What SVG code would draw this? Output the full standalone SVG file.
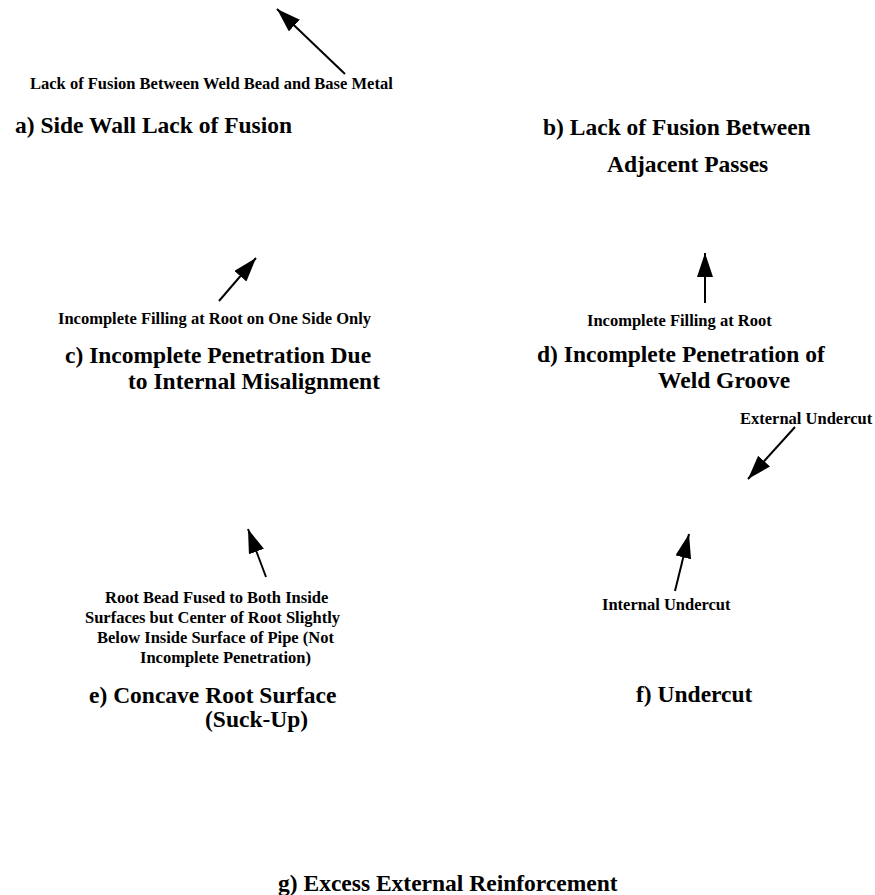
<svg xmlns="http://www.w3.org/2000/svg" width="875" height="895" viewBox="0 0 875 895">
<style>
.lbl{font-size:16.5px}
.ttl{font-size:23.5px}
.arr{stroke:#000;stroke-width:2;fill:none;marker-end:url(#ah)}
</style>
<defs>
<marker id="ah" markerUnits="userSpaceOnUse" markerWidth="26" markerHeight="18" refX="24" refY="8" orient="auto">
<path d="M0,0 L24,8 L0,16 Z" fill="#000"/>
</marker>
</defs>
<rect width="875" height="895" fill="#fff"/>
<g id="connectors">
<line class="arr" x1="345" y1="74" x2="277" y2="9"/>
<line class="arr" x1="219" y1="301" x2="256" y2="258"/>
<line class="arr" x1="705" y1="303" x2="705" y2="253"/>
<line class="arr" x1="795" y1="427" x2="748" y2="479"/>
<line class="arr" x1="675" y1="591" x2="689" y2="534"/>
<line class="arr" x1="266" y1="577" x2="248" y2="529"/>
</g>
<g font-family="'Liberation Serif', 'DejaVu Serif', serif" font-weight="bold" fill="#000">
<g id="a">
<text class="lbl" x="30" y="89">Lack of Fusion Between Weld Bead and Base Metal</text>
<text class="ttl" x="15" y="133">a) Side Wall Lack of Fusion</text>
</g>
<g id="b">
<text class="ttl" x="543" y="135">b) Lack of Fusion Between</text>
<text class="ttl" x="607" y="172">Adjacent Passes</text>
</g>
<g id="c">
<text class="lbl" x="58" y="324">Incomplete Filling at Root on One Side Only</text>
<text class="ttl" x="65" y="363">c) Incomplete Penetration Due</text>
<text class="ttl" x="128" y="389">to Internal Misalignment</text>
</g>
<g id="d">
<text class="lbl" x="587" y="326">Incomplete Filling at Root</text>
<text class="ttl" x="537" y="362">d) Incomplete Penetration of</text>
<text class="ttl" x="658" y="388">Weld Groove</text>
</g>
<g id="e">
<text class="lbl" x="105" y="603">Root Bead Fused to Both Inside</text>
<text class="lbl" x="85" y="623">Surfaces but Center of Root Slightly</text>
<text class="lbl" x="97" y="643">Below Inside Surface of Pipe (Not</text>
<text class="lbl" x="140" y="663">Incomplete Penetration)</text>
<text class="ttl" x="89" y="703">e) Concave Root Surface</text>
<text class="ttl" x="205" y="727">(Suck-Up)</text>
</g>
<g id="f">
<text class="lbl" x="740" y="424">External Undercut</text>
<text class="lbl" x="602" y="610">Internal Undercut</text>
<text class="ttl" x="636" y="702">f) Undercut</text>
</g>
<g id="g">
<text class="ttl" x="278" y="891">g) Excess External Reinforcement</text>
</g>
</g>
</svg>
